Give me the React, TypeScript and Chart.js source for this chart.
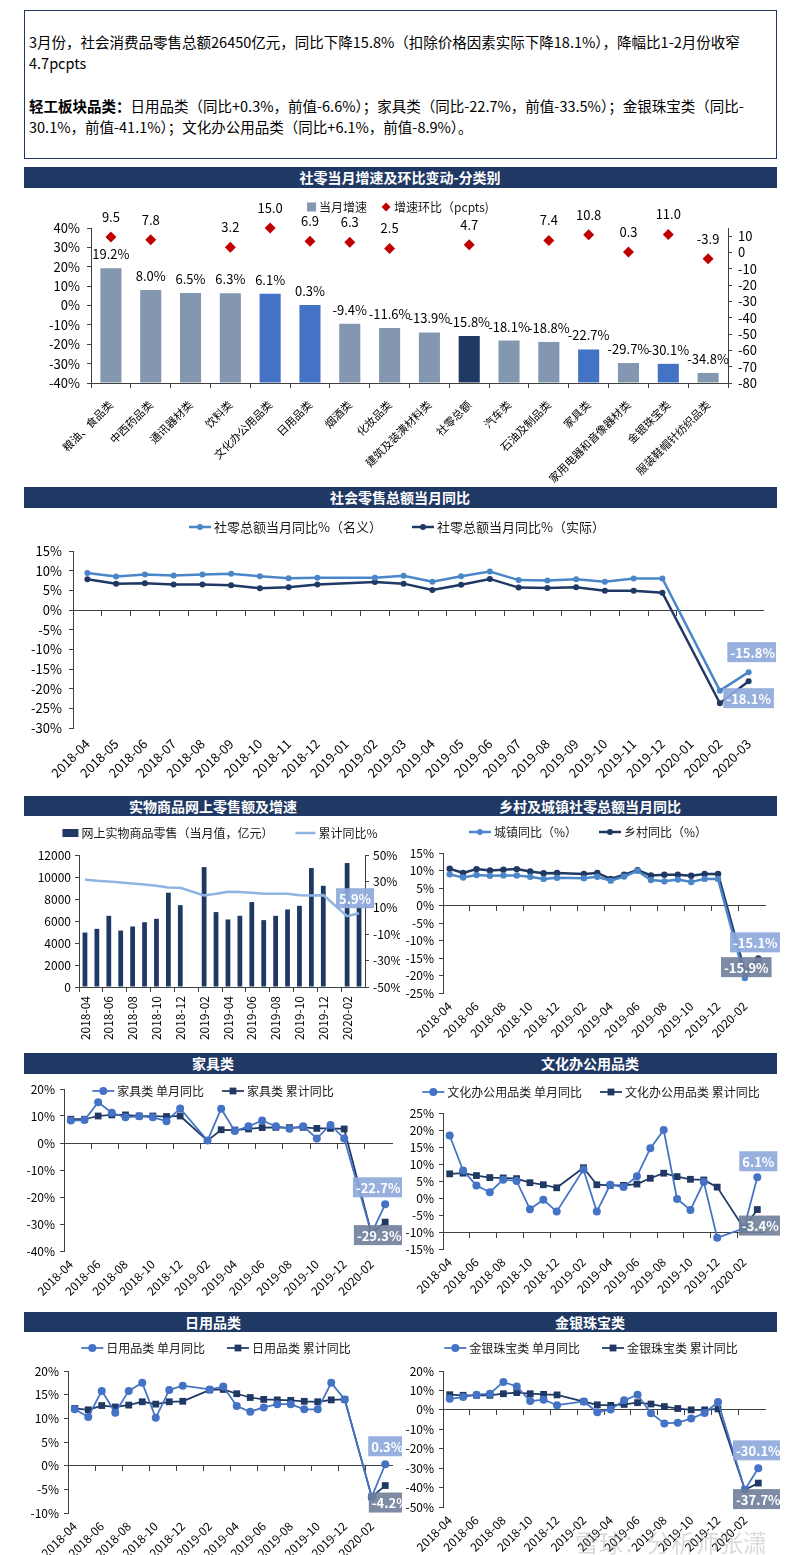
import React, { useEffect, useRef } from 'react';
import { Chart, registerables } from 'chart.js';

Chart.register(...registerables);

const FONT = '"Noto Sans CJK SC", "Noto Sans", "DejaVu Sans", sans-serif';
Chart.defaults.font.family = FONT;
Chart.defaults.color = '#000';

// ---------------- data ----------------
const MONTHS = [
  '2018-04', '2018-05', '2018-06', '2018-07', '2018-08', '2018-09', '2018-10', '2018-11', '2018-12',
  '2019-01', '2019-02', '2019-03', '2019-04', '2019-05', '2019-06', '2019-07', '2019-08', '2019-09',
  '2019-10', '2019-11', '2019-12', '2020-01', '2020-02', '2020-03',
];

const CATEGORIES = [
  '粮油、食品类', '中西药品类', '通讯器材类', '饮料类', '文化办公用品类', '日用品类', '烟酒类', '化妆品类',
  '建筑及装潢材料类', '社零总额', '汽车类', '石油及制品类', '家具类', '家用电器和音像器材类', '金银珠宝类', '服装鞋帽针纺织品类',
];
const CAT_GROWTH = [19.2, 8.0, 6.5, 6.3, 6.1, 0.3, -9.4, -11.6, -13.9, -15.8, -18.1, -18.8, -22.7, -29.7, -30.1, -34.8];
const CAT_MOM = [9.5, 7.8, null, 3.2, 15.0, 6.9, 6.3, 2.5, null, 4.7, null, 7.4, 10.8, 0.3, 11.0, -3.9];
const HIGHLIGHT_CATS = ['文化办公用品类', '日用品类', '家具类', '金银珠宝类'];
const TOTAL_CAT = '社零总额';
const MOM_TICKS = [-80, -70, -60, -50, -40, -30, -20, -10, 0, 10];

const RETAIL_NOMINAL = [9.4, 8.5, 9.0, 8.8, 9.0, 9.2, 8.6, 8.1, 8.2, null, 8.2, 8.7, 7.2, 8.6, 9.8, 7.6, 7.5, 7.8, 7.2, 8.0, 8.0, null, -20.5, -15.8];
const RETAIL_REAL = [7.8, 6.7, 6.8, 6.5, 6.5, 6.3, 5.5, 5.8, 6.5, null, 7.1, 6.7, 5.1, 6.4, 7.9, 5.7, 5.6, 5.8, 4.9, 4.9, 4.4, null, -23.7, -18.1];

const ONLINE_SALES = [4950, 5290, 6470, 5130, 5500, 5890, 6200, 8570, 7440, null, 10900, 6810, 6140, 6470, 7720, 6080, 6470, 7050, 7380, 10810, 9200, null, 11270, 7300];
const ONLINE_CUM = [31.3, 30.5, 30.0, 29.2, 28.5, 27.7, 26.7, 25.4, 25.2, null, 19.4, 20.6, 22.2, 21.9, 21.4, 20.6, 20.6, 20.6, 19.6, 19.4, 19.6, null, 3.7, 5.9];
const ONLINE_PCT_TICKS = [-50, -30, -10, 10, 30, 50];

const URBAN = [8.9, 8.0, 8.7, 8.5, 8.6, 8.6, 8.2, 7.6, 7.9, null, 7.8, 8.2, 7.1, 8.3, 9.9, 7.3, 6.9, 7.4, 6.7, 7.6, 7.6, null, -20.7, -15.9];
const RURAL = [10.5, 9.3, 10.4, 10.0, 10.2, 10.4, 9.7, 9.2, 9.3, null, 9.0, 9.3, 7.6, 8.8, 10.1, 8.6, 8.8, 8.8, 8.5, 9.0, 9.0, null, -19.0, -15.1];

const FURN_M = [8.3, 8.5, 15.1, 11.2, 9.5, 9.9, 9.5, 8.1, 12.8, null, 0.9, 12.7, 4.4, 6.2, 8.3, 6.2, 5.3, 6.2, 1.7, 6.7, 1.7, null, -33.5, -22.7];
const FURN_C = [8.8, 8.8, 10.0, 10.4, 10.4, 10.0, 10.0, 9.8, 10.0, null, 0.9, 4.9, 4.8, 5.2, 5.7, 5.8, 5.7, 5.8, 5.4, 5.4, 5.2, null, -33.5, -29.3];

const STAT_M = [18.4, 8.1, 3.7, 1.7, 5.4, 5.0, -3.3, -0.5, -4.0, null, 8.4, -4.0, 3.9, 3.2, 6.4, 14.6, 20.0, -0.3, -3.5, 4.7, -11.7, null, -8.9, 6.1];
const STAT_C = [7.1, 7.3, 6.6, 6.0, 5.9, 5.7, 4.5, 3.9, 3.0, null, 8.9, 3.9, 3.7, 3.7, 4.1, 5.8, 7.3, 6.3, 5.5, 5.3, 3.2, null, -8.9, -3.4];

const DAILY_M = [11.9, 10.3, 15.8, 11.2, 15.8, 17.5, 10.1, 16.0, 16.9, null, 16.1, 16.7, 12.6, 11.4, 12.3, 13.0, 13.0, 11.9, 11.9, 17.5, 14.0, null, -6.6, 0.3];
const DAILY_C = [12.1, 11.8, 12.7, 12.4, 12.8, 13.5, 13.0, 13.5, 13.6, null, 16.0, 16.1, 15.2, 14.4, 14.0, 13.9, 13.8, 13.6, 13.5, 13.9, 14.0, null, -6.6, -4.2];

const JEWEL_M = [5.7, 6.6, 7.8, 8.3, 14.4, 12.0, 4.5, 5.2, 2.4, null, 4.3, -1.2, 0.2, 4.9, 7.8, -1.7, -7.0, -6.6, -4.5, -1.6, 4.0, null, -41.1, -30.1];
const JEWEL_C = [7.8, 7.5, 7.5, 7.5, 8.3, 8.9, 8.3, 8.0, 7.7, null, 4.2, 2.6, 2.3, 2.8, 3.7, 3.0, 1.7, 0.7, 0.0, 0.0, 0.5, null, -41.1, -37.7];

// ---------------- texts ----------------
const INTRO_1 = '3月份，社会消费品零售总额26450亿元，同比下降15.8%（扣除价格因素实际下降18.1%），降幅比1-2月份收窄';
const INTRO_2 = '4.7pcpts';
const INTRO_3_BOLD = '轻工板块品类：';
const INTRO_3 = '日用品类（同比+0.3%，前值-6.6%）；家具类（同比-22.7%，前值-33.5%）；金银珠宝类（同比-';
const INTRO_4 = '30.1%，前值-41.1%）；文化办公用品类（同比+6.1%，前值-8.9%）。';

const TITLE_1 = '社零当月增速及环比变动-分类别';
const TITLE_2 = '社会零售总额当月同比';
const TITLE_3L = '实物商品网上零售额及增速';
const TITLE_3R = '乡村及城镇社零总额当月同比';
const TITLE_4L = '家具类';
const TITLE_4R = '文化办公用品类';
const TITLE_5L = '日用品类';
const TITLE_5R = '金银珠宝类';

const S_GROWTH = '当月增速';
const S_MOM = '增速环比（pcpts)';
const S_NOMINAL = '社零总额当月同比%（名义）';
const S_REAL = '社零总额当月同比%（实际）';
const S_ONLINE = '网上实物商品零售（当月值，亿元）';
const S_ONLINE_CUM = '累计同比%';
const S_URBAN = '城镇同比（%）';
const S_RURAL = '乡村同比（%）';
const S_FURN_M = '家具类 单月同比';
const S_FURN_C = '家具类 累计同比';
const S_STAT_M = '文化办公用品类 单月同比';
const S_STAT_C = '文化办公用品类 累计同比';
const S_DAILY_M = '日用品类 单月同比';
const S_DAILY_C = '日用品类 累计同比';
const S_JEWEL_M = '金银珠宝类 单月同比';
const S_JEWEL_C = '金银珠宝类 累计同比';
const WATERMARK = '雪球：分析师张潇';

// ---------------- styles ----------------
const NAVY = '#1F3864';
const BLUE = '#4472C4';
const MID_BLUE = '#4A86C8';
const GRAYBLUE = '#8497B0';
const RED = '#C00000';
const LIGHT_LINE = '#8DB4E2';
const BOX_LIGHT = 'rgba(142,169,219,0.92)';
const BOX_DARK = 'rgba(112,126,154,0.9)';
const AXIS = '#404040';
const CLEAR = 'rgba(0,0,0,0)';

// ---------------- plugins ----------------
function makeLegend(cx: number, y: number, fontSize: number, gap: number, items: any[]) {
  return {
    id: 'xlLegend',
    afterDraw(chart: any) {
      const ctx = chart.ctx;
      ctx.save();
      ctx.font = `${fontSize}px ${FONT}`;
      ctx.textBaseline = 'middle';
      ctx.textAlign = 'left';
      const symW = (it: any) => (it.kind === 'box' ? it.w || 9 : it.kind === 'diamond' ? 10 : it.w || 22);
      const widths = items.map((it) => symW(it) + 3 + ctx.measureText(it.text).width);
      const total = widths.reduce((a: number, b: number) => a + b, 0) + gap * (items.length - 1);
      let x = cx - total / 2;
      items.forEach((it, i) => {
        const sw = symW(it);
        ctx.fillStyle = it.color;
        ctx.strokeStyle = it.color;
        if (it.kind === 'box') {
          const h = it.h || 9;
          ctx.fillRect(x, y - h / 2, sw, h);
        } else if (it.kind === 'diamond') {
          ctx.beginPath();
          ctx.moveTo(x + 5, y - 4.5);
          ctx.lineTo(x + 9.5, y);
          ctx.lineTo(x + 5, y + 4.5);
          ctx.lineTo(x + 0.5, y);
          ctx.closePath();
          ctx.fill();
        } else {
          ctx.lineWidth = it.lw || 2;
          ctx.beginPath();
          ctx.moveTo(x, y);
          ctx.lineTo(x + sw, y);
          ctx.stroke();
          const mx = x + sw / 2;
          if (it.marker === 'circle') {
            ctx.beginPath();
            ctx.arc(mx, y, it.r || 3, 0, Math.PI * 2);
            ctx.fill();
          } else if (it.marker === 'rect') {
            const s = it.r || 3;
            ctx.fillRect(mx - s, y - s, s * 2, s * 2);
          }
        }
        ctx.fillStyle = '#1a1a1a';
        ctx.fillText(it.text, x + sw + 3, y + 0.5);
        x += widths[i] + gap;
      });
      ctx.restore();
    },
  };
}

function makeLabels(series: any[], boxes: any[]) {
  return {
    id: 'xlLabels',
    afterDatasetsDraw(chart: any) {
      const ctx = chart.ctx;
      ctx.save();
      ctx.textAlign = 'center';
      ctx.textBaseline = 'middle';
      series.forEach((s) => {
        const meta = chart.getDatasetMeta(s.ds);
        const data = chart.data.datasets[s.ds].data;
        ctx.font = `${s.size}px ${FONT}`;
        ctx.fillStyle = '#000';
        meta.data.forEach((el: any, i: number) => {
          const v = data[i];
          if (v === null || v === undefined) return;
          ctx.fillText(v.toFixed(1) + s.suffix, el.x, el.y + s.dy);
        });
      });
      boxes.forEach((b) => {
        const el = chart.getDatasetMeta(b.ds).data[b.idx];
        const v = chart.data.datasets[b.ds].data[b.idx];
        if (!el || v === null) return;
        const text = v.toFixed(1) + '%';
        ctx.font = `bold 13px ${FONT}`;
        const w = ctx.measureText(text).width + 6;
        const h = 20;
        const cx = el.x + b.dx;
        const cy = el.y + b.dy;
        ctx.fillStyle = b.bg;
        ctx.fillRect(cx - w / 2, cy - h / 2, w, h);
        ctx.fillStyle = '#fff';
        ctx.fillText(text, cx, cy + 0.5);
      });
      ctx.restore();
    },
  };
}

// ---------------- scale helpers ----------------
function baseOptions(padTop: number, padRight: number) {
  return {
    responsive: true,
    maintainAspectRatio: false,
    animation: false,
    events: [],
    layout: { padding: { top: padTop, right: padRight, left: 0, bottom: 0 } },
    plugins: { legend: { display: false }, tooltip: { enabled: false } },
  };
}

function yScale(o: any) {
  const sc: any = {
    type: 'linear',
    position: o.position || 'left',
    min: o.min,
    max: o.max,
    ticks: {
      stepSize: o.step,
      autoSkip: false,
      color: '#000',
      font: { size: o.font || 12 },
      padding: o.pad === undefined ? 5 : o.pad,
      callback: (v: number) => v + (o.suffix || ''),
    },
    grid: { drawOnChartArea: false, drawTicks: true, tickLength: 4, color: AXIS },
    border: { display: true, color: AXIS, width: 1 },
    afterFit: (s: any) => {
      s.width = o.width;
    },
  };
  if (o.tickList) {
    sc.afterBuildTicks = (s: any) => {
      s.ticks = o.tickList.map((v: number) => ({ value: v }));
    };
  }
  return sc;
}

function xCross(crossAt: number, every: number) {
  return {
    type: 'category',
    position: { y: crossAt },
    offset: true,
    ticks: { display: false },
    grid: {
      drawOnChartArea: false,
      drawTicks: true,
      tickLength: 5,
      offset: true,
      color: (c: any) => (c.index % every === 0 ? AXIS : CLEAR),
    },
    border: { display: true, color: AXIS, width: 1 },
    afterFit: (s: any) => {
      s.height = 0;
    },
  };
}

function xLabels(height: number, rotation: number, every: number, pad: number, font: number) {
  return {
    type: 'category',
    position: 'bottom',
    offset: true,
    ticks: {
      autoSkip: false,
      maxRotation: rotation,
      minRotation: rotation,
      padding: pad,
      color: '#000',
      font: { size: font },
      callback: (_v: any, i: number) => (i % every === 0 ? MONTHS[i] : ''),
    },
    grid: { display: false, drawTicks: false },
    border: { display: false },
    afterFit: (s: any) => {
      s.height = height;
    },
  };
}

// ---------------- chart specs ----------------
const barColor = (c: string) => (c === TOTAL_CAT ? NAVY : HIGHLIGHT_CATS.includes(c) ? BLUE : GRAYBLUE);

const SPEC_1 = {
  left: 25, top: 190, width: 751, height: 293,
  build: () => ({
    type: 'bar',
    data: {
      labels: CATEGORIES,
      datasets: [
        {
          type: 'line', label: S_MOM, data: CAT_MOM, yAxisID: 'y1', showLine: false,
          pointStyle: 'rectRot', pointRadius: 5.5, pointBackgroundColor: RED, pointBorderColor: RED,
          pointBorderWidth: 0, clip: false,
        },
        {
          type: 'bar', label: S_GROWTH, data: CAT_GROWTH, yAxisID: 'y', base: -40,
          backgroundColor: CATEGORIES.map(barColor), categoryPercentage: 1, barPercentage: 0.53,
        },
      ],
    },
    options: {
      ...baseOptions(38, 0),
      scales: {
        x: {
          type: 'category',
          offset: true,
          ticks: { autoSkip: false, maxRotation: 45, minRotation: 45, padding: 10, color: '#000', font: { size: 11 } },
          grid: { drawOnChartArea: false, drawTicks: true, tickLength: 5, offset: true, color: AXIS },
          border: { display: true, color: AXIS },
          afterFit: (s: any) => { s.height = 100; },
        },
        y: yScale({ min: -40, max: 40, step: 10, suffix: '%', width: 66, font: 13, pad: 7 }),
        y1: yScale({ min: -80, max: 15, position: 'right', width: 48, font: 13, pad: 6, tickList: MOM_TICKS }),
      },
    },
    plugins: [
      makeLegend(373, 17, 12, 14, [
        { text: S_GROWTH, kind: 'box', color: GRAYBLUE },
        { text: S_MOM, kind: 'diamond', color: RED },
      ]),
      makeLabels(
        [
          { ds: 1, dy: -14, suffix: '%', size: 13 },
          { ds: 0, dy: -20, suffix: '', size: 13 },
        ],
        [],
      ),
    ],
  }),
};

function lineSpec(o: any) {
  return {
    left: o.left, top: o.top, width: o.width, height: o.height,
    build: () => ({
      type: 'line',
      data: {
        labels: MONTHS,
        datasets: o.series.map((s: any) => ({
          label: s.label, data: s.data, borderColor: s.color, backgroundColor: s.color,
          borderWidth: s.lw, pointRadius: s.radius, pointStyle: s.marker,
          pointBackgroundColor: s.color, pointBorderColor: s.color, pointBorderWidth: 0,
          spanGaps: true, tension: 0, clip: false, xAxisID: 'x', yAxisID: 'y',
        })),
      },
      options: {
        ...baseOptions(o.padTop, o.padRight),
        scales: {
          x: xCross(o.cross, o.every),
          xl: xLabels(o.xHeight, 45, o.every, o.labelPad, o.labelFont),
          y: yScale({ min: o.min, max: o.max, step: o.step, suffix: '%', width: o.yWidth, font: o.yFont, pad: o.yPad }),
        },
      },
      plugins: [
        makeLegend(o.legend.cx, o.legend.y, o.legend.size, o.legend.gap,
          o.series.map((s: any) => ({
            text: s.label, kind: 'linePoint', color: s.color, marker: s.marker === 'rect' ? 'rect' : 'circle',
            r: s.legendR, lw: s.lw, w: 22,
          }))),
        makeLabels([], o.boxes),
      ],
    }),
  };
}

const SPEC_2 = lineSpec({
  left: 25, top: 509, width: 751, height: 281, padTop: 42, padRight: 13, yWidth: 48, xHeight: 62,
  min: -30, max: 15, step: 5, cross: 0, every: 1, labelPad: 8, labelFont: 13, yFont: 13, yPad: 7,
  legend: { cx: 372, y: 18, size: 13, gap: 30 },
  series: [
    { label: S_NOMINAL, data: RETAIL_NOMINAL, color: MID_BLUE, lw: 2.5, radius: 3, marker: 'circle', legendR: 3 },
    { label: S_REAL, data: RETAIL_REAL, color: NAVY, lw: 2.5, radius: 3, marker: 'circle', legendR: 3 },
  ],
  boxes: [
    { ds: 0, idx: 23, dx: 4, dy: -20, bg: BOX_LIGHT },
    { ds: 1, idx: 23, dx: 0, dy: 17, bg: BOX_LIGHT },
  ],
});

const SPEC_3 = {
  left: 25, top: 817, width: 375, height: 231,
  build: () => ({
    type: 'bar',
    data: {
      labels: MONTHS,
      datasets: [
        {
          type: 'line', label: S_ONLINE_CUM, data: ONLINE_CUM, yAxisID: 'y1', borderColor: LIGHT_LINE,
          backgroundColor: LIGHT_LINE, borderWidth: 2.5, pointRadius: 0, spanGaps: true, tension: 0,
        },
        {
          type: 'bar', label: S_ONLINE, data: ONLINE_SALES, yAxisID: 'y', backgroundColor: NAVY,
          categoryPercentage: 1, barPercentage: 0.4,
        },
      ],
    },
    options: {
      ...baseOptions(38, 0),
      scales: {
        x: {
          type: 'category',
          offset: true,
          ticks: {
            autoSkip: false, maxRotation: 90, minRotation: 90, padding: 4, color: '#000', font: { size: 12 },
            callback: (_v: any, i: number) => (i % 2 === 0 ? MONTHS[i] : ''),
          },
          grid: {
            drawOnChartArea: false, drawTicks: true, tickLength: 5, offset: true,
            color: (c: any) => (c.index % 2 === 0 ? AXIS : CLEAR),
          },
          border: { display: true, color: AXIS },
          afterFit: (s: any) => { s.height = 61; },
        },
        y: yScale({ min: 0, max: 12000, step: 2000, width: 54, font: 12, pad: 4 }),
        y1: yScale({ min: -50, max: 50, position: 'right', suffix: '%', width: 35, font: 12, pad: 4, tickList: ONLINE_PCT_TICKS }),
      },
    },
    plugins: [
      makeLegend(195, 16, 12, 22, [
        { text: S_ONLINE, kind: 'box', color: NAVY, w: 16, h: 8 },
        { text: S_ONLINE_CUM, kind: 'line', color: LIGHT_LINE, lw: 2.5, w: 20 },
      ]),
      makeLabels([], [{ ds: 0, idx: 23, dx: -4, dy: -15, bg: BOX_LIGHT }]),
    ],
  }),
};

const SPEC_4 = lineSpec({
  left: 402, top: 817, width: 378, height: 231, padTop: 36, padRight: 15, yWidth: 41, xHeight: 55,
  min: -25, max: 15, step: 5, cross: 0, every: 2, labelPad: 6, labelFont: 12, yFont: 12, yPad: 5,
  legend: { cx: 186, y: 15, size: 12, gap: 22 },
  series: [
    { label: S_URBAN, data: URBAN, color: MID_BLUE, lw: 2.5, radius: 3.2, marker: 'circle', legendR: 3 },
    { label: S_RURAL, data: RURAL, color: NAVY, lw: 2.5, radius: 3.2, marker: 'circle', legendR: 3 },
  ],
  boxes: [
    { ds: 1, idx: 23, dx: -3, dy: -16, bg: BOX_LIGHT },
    { ds: 0, idx: 23, dx: -12, dy: 6, bg: BOX_DARK },
  ],
});

const SPEC_5 = lineSpec({
  left: 25, top: 1075, width: 377, height: 235, padTop: 14, padRight: 10, yWidth: 39, xHeight: 59,
  min: -40, max: 20, step: 10, cross: 0, every: 2, labelPad: 6, labelFont: 12, yFont: 12, yPad: 5,
  legend: { cx: 188, y: 16, size: 12, gap: 18 },
  series: [
    { label: S_FURN_M, data: FURN_M, color: BLUE, lw: 1.75, radius: 4, marker: 'circle', legendR: 4 },
    { label: S_FURN_C, data: FURN_C, color: NAVY, lw: 1.75, radius: 4.8, marker: 'rect', legendR: 3.4 },
  ],
  boxes: [
    { ds: 0, idx: 23, dx: -7, dy: -17, bg: BOX_LIGHT },
    { ds: 1, idx: 23, dx: -6, dy: 13, bg: BOX_DARK },
  ],
});

const SPEC_6 = lineSpec({
  left: 402, top: 1075, width: 378, height: 235, padTop: 38, padRight: 16, yWidth: 41, xHeight: 61,
  min: -15, max: 25, step: 5, cross: -10, every: 2, labelPad: 6, labelFont: 12, yFont: 12, yPad: 5,
  legend: { cx: 189, y: 17, size: 12, gap: 18 },
  series: [
    { label: S_STAT_M, data: STAT_M, color: BLUE, lw: 1.75, radius: 4, marker: 'circle', legendR: 4 },
    { label: S_STAT_C, data: STAT_C, color: NAVY, lw: 1.75, radius: 4.8, marker: 'rect', legendR: 3.4 },
  ],
  boxes: [
    { ds: 0, idx: 23, dx: 1, dy: -16, bg: BOX_LIGHT },
    { ds: 1, idx: 23, dx: 3, dy: 16, bg: BOX_DARK },
  ],
});

const SPEC_7 = lineSpec({
  left: 25, top: 1333, width: 377, height: 222, padTop: 38, padRight: 10, yWidth: 43, xHeight: 42,
  min: -10, max: 20, step: 5, cross: 0, every: 2, labelPad: 6, labelFont: 12, yFont: 12, yPad: 5,
  legend: { cx: 191, y: 15, size: 12, gap: 22 },
  series: [
    { label: S_DAILY_M, data: DAILY_M, color: BLUE, lw: 1.75, radius: 4, marker: 'circle', legendR: 4 },
    { label: S_DAILY_C, data: DAILY_C, color: NAVY, lw: 1.75, radius: 4.8, marker: 'rect', legendR: 3.4 },
  ],
  boxes: [
    { ds: 0, idx: 23, dx: 2, dy: -18, bg: BOX_LIGHT },
    { ds: 1, idx: 23, dx: 5, dy: 17, bg: BOX_DARK },
  ],
});

const SPEC_8 = lineSpec({
  left: 402, top: 1333, width: 378, height: 222, padTop: 38, padRight: 15, yWidth: 41, xHeight: 48,
  min: -50, max: 20, step: 10, cross: 0, every: 2, labelPad: 6, labelFont: 12, yFont: 12, yPad: 5,
  legend: { cx: 189, y: 15, size: 12, gap: 22 },
  series: [
    { label: S_JEWEL_M, data: JEWEL_M, color: BLUE, lw: 1.75, radius: 4, marker: 'circle', legendR: 4 },
    { label: S_JEWEL_C, data: JEWEL_C, color: NAVY, lw: 1.75, radius: 4.8, marker: 'rect', legendR: 3.4 },
  ],
  boxes: [
    { ds: 0, idx: 23, dx: 0, dy: -18, bg: BOX_LIGHT },
    { ds: 1, idx: 23, dx: 0, dy: 16, bg: BOX_DARK },
  ],
});

const SPECS = [SPEC_1, SPEC_2, SPEC_3, SPEC_4, SPEC_5, SPEC_6, SPEC_7, SPEC_8];

// ---------------- components ----------------
function ChartBox({ spec }: { spec: any }) {
  const ref = useRef<HTMLCanvasElement | null>(null);
  useEffect(() => {
    if (!ref.current) return;
    const chart = new Chart(ref.current, spec.build());
    return () => chart.destroy();
  }, [spec]);
  return (
    <div style={{ position: 'absolute', left: spec.left, top: spec.top, width: spec.width, height: spec.height }}>
      <canvas ref={ref} />
    </div>
  );
}

const titleText: React.CSSProperties = {
  position: 'absolute', top: 0, color: '#fff', fontWeight: 'bold', fontSize: 14,
  lineHeight: '21px', whiteSpace: 'nowrap', transform: 'translateX(-50%)',
};

function TitleBar({ top, height, center, left, right }: any) {
  return (
    <div style={{ position: 'absolute', left: 24, top, width: 753, height, background: NAVY, fontFamily: FONT }}>
      {center && <div style={{ ...titleText, left: 376, lineHeight: `${height}px` }}>{center}</div>}
      {left && <div style={{ ...titleText, left: 189, lineHeight: `${height}px` }}>{left}</div>}
      {right && <div style={{ ...titleText, left: 566, lineHeight: `${height}px` }}>{right}</div>}
    </div>
  );
}

export default function App() {
  const lineStyle: React.CSSProperties = { whiteSpace: 'nowrap', lineHeight: '20.5px' };
  return (
    <div style={{ position: 'absolute', left: 0, top: 0, width: 800, height: 1555, overflow: 'hidden', background: '#fff', fontFamily: FONT }}>
      <div style={{ position: 'absolute', left: 24, top: 10, width: 753, height: 149, boxSizing: 'border-box', border: `1.5px solid ${NAVY}`, fontSize: 14.5, color: '#000' }}>
        <div style={{ position: 'absolute', left: 4, top: 21 }}>
          <div style={lineStyle}>{INTRO_1}</div>
          <div style={lineStyle}>{INTRO_2}</div>
        </div>
        <div style={{ position: 'absolute', left: 4, top: 85 }}>
          <div style={lineStyle}><b>{INTRO_3_BOLD}</b>{INTRO_3}</div>
          <div style={lineStyle}>{INTRO_4}</div>
        </div>
      </div>
      <TitleBar top={167} height={21} center={TITLE_1} />
      <TitleBar top={487} height={21} center={TITLE_2} />
      <TitleBar top={796} height={20} left={TITLE_3L} right={TITLE_3R} />
      <TitleBar top={1053} height={21} left={TITLE_4L} right={TITLE_4R} />
      <TitleBar top={1312} height={20} left={TITLE_5L} right={TITLE_5R} />
      {SPECS.map((s, i) => (
        <ChartBox key={i} spec={s} />
      ))}
      <div style={{ position: 'absolute', left: 575, top: 1524, fontSize: 24, color: 'rgba(150,150,150,0.35)', whiteSpace: 'nowrap' }}>{WATERMARK}</div>
    </div>
  );
}
